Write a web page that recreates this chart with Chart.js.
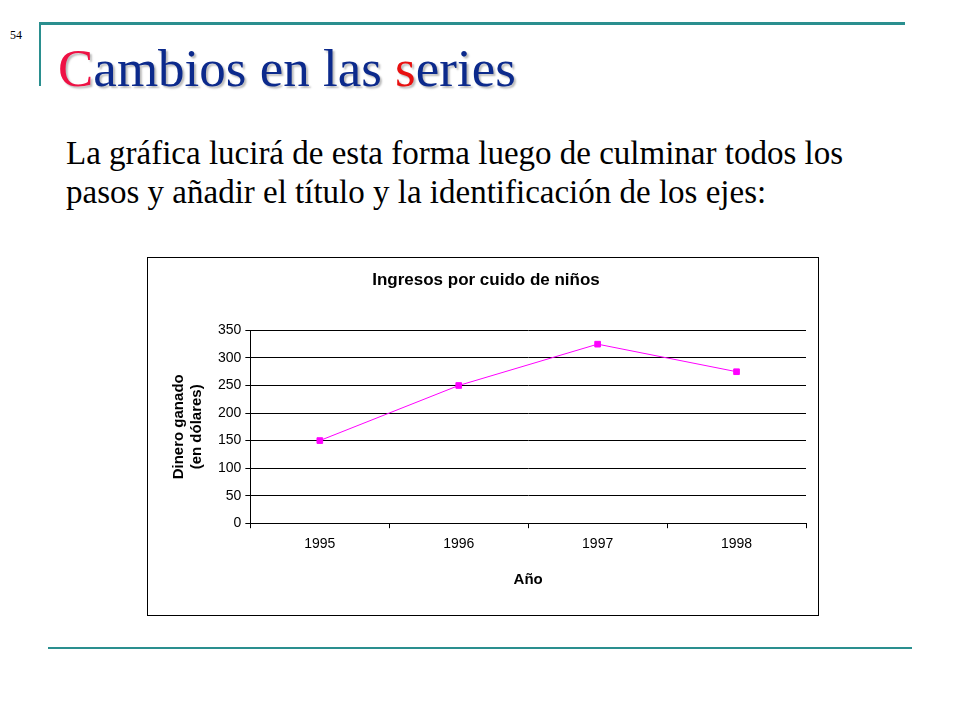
<!DOCTYPE html>
<html><head><meta charset="utf-8">
<script src="https://cdn.jsdelivr.net/npm/chart.js@4/dist/chart.umd.min.js"></script>
<style>
body{margin:0;width:960px;height:720px;background:#fff;position:relative;overflow:hidden;font-family:"Liberation Serif",serif}
.num{position:absolute;left:10px;top:28px;font-size:12px;color:#000}
.vl{position:absolute;left:39px;top:22px;width:2px;height:64px;background:#2a8f8f}
.tl{position:absolute;left:39px;top:22px;width:866px;height:3px;background:#2a8f8f}
.bl{position:absolute;left:48px;top:647px;width:864px;height:2px;background:#2a8f8f}
h1{position:absolute;left:58px;top:42px;margin:0;font-weight:normal;font-size:53px;color:#0c2a8c;text-shadow:2px 2px 2px #bbb;line-height:1}
.r{color:#ee1144}.s{color:#e81010}
p{position:absolute;left:66px;top:134px;margin:0;font-size:33px;line-height:39px;width:880px}
#box{position:absolute;left:147px;top:257px;width:670px;height:357px;border:1px solid #000}
</style></head><body>
<div class="num">54</div><div class="tl"></div><div class="vl"></div><div class="bl"></div>
<h1><span class="r">C</span>ambios en las <span class="s">s</span>eries</h1>
<p>La gráfica lucirá de esta forma luego de culminar todos los<br>pasos y añadir el título y la identificación de los ejes:</p>
<div id="box"><canvas id="c" width="670" height="357"></canvas></div>
<script>
const categories=["1995","1996","1997","1998"];
const ingresos=[150,250,325,275];
const chartTitle="Ingresos por cuido de niños";
const xTitle="Año";
const yTitle=["Dinero ganado","(en dólares)"];
new Chart(document.getElementById('c'),{
type:'line',
data:{labels:categories,datasets:[{data:ingresos,borderColor:'#ff00ff',backgroundColor:'#ff00ff',borderWidth:1,pointStyle:'rect',pointRadius:4,tension:0}]},
options:{responsive:false,animation:false,
layout:{padding:{left:18,right:12,top:4,bottom:22}},
plugins:{legend:{display:false},tooltip:{enabled:false},
title:{display:true,text:chartTitle,color:'#000',font:{family:'Liberation Sans',size:17,weight:'bold'},padding:{top:8,bottom:40}}},
scales:{
x:{offset:true,grid:{offset:true,drawOnChartArea:false,color:'#000',tickLength:5},border:{color:'#000'},
ticks:{color:'#000',font:{family:'Liberation Sans',size:14},padding:8},
title:{display:true,text:xTitle,color:'#000',font:{family:'Liberation Sans',size:15,weight:'bold'},padding:{top:10}}},
y:{min:0,max:350,ticks:{stepSize:50,color:'#000',font:{family:'Liberation Sans',size:14},padding:4},
grid:{color:'#000',tickLength:5},border:{color:'#000'},
title:{display:true,text:yTitle,color:'#000',font:{family:'Liberation Sans',size:15,weight:'bold'},padding:{bottom:8}}}
}}});
</script></body></html>
